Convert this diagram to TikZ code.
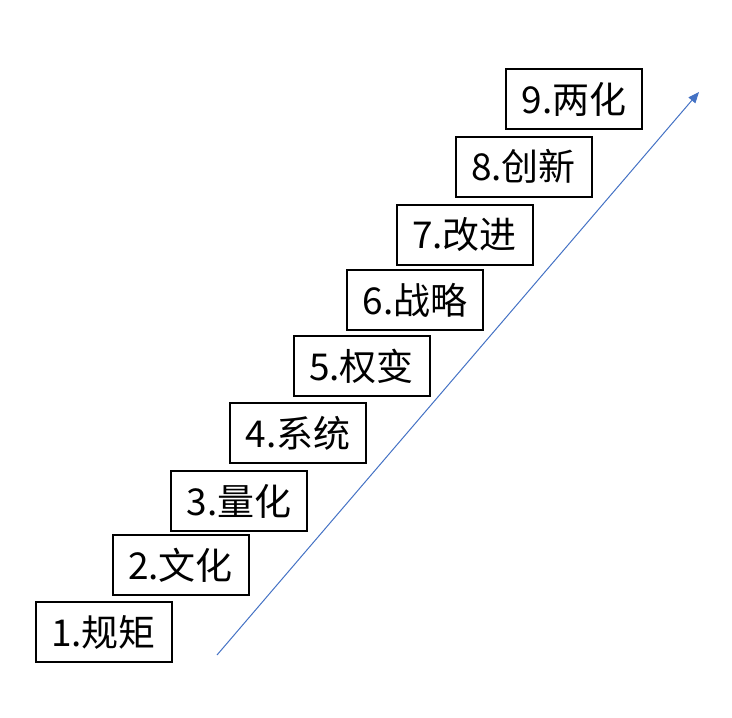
\documentclass[tikz,border=0pt]{standalone}
\usepackage{fontspec}
\newfontfamily\cjk{Noto Sans CJK SC}
\usetikzlibrary{arrows.meta}
\definecolor{arrowblue}{HTML}{4472C4}
\tikzset{
  stepbox/.style={draw=black, line width=2pt, fill=white, minimum width=136pt, minimum height=60pt, inner sep=0pt, font=\cjk\fontsize{37}{40}\selectfont, text=black},
  risearrow/.style={draw=arrowblue, line width=1pt, -{Triangle[width=9pt,length=11pt]}}
}
\begin{document}
\begin{tikzpicture}[x=1pt,y=-1pt]
\useasboundingbox (0,0) rectangle (732,718);
\node[stepbox] (s1) at (103.5,632) {1.规矩};
\node[stepbox] (s2) at (180.5,565) {2.文化};
\node[stepbox] (s3) at (239,501) {3.量化};
\node[stepbox] (s4) at (298,433) {4.系统};
\node[stepbox] (s5) at (361.5,366) {5.权变};
\node[stepbox] (s6) at (415,300) {6.战略};
\node[stepbox] (s7) at (464.5,235) {7.改进};
\node[stepbox] (s8) at (523.5,166.5) {8.创新};
\node[stepbox] (s9) at (574,99) {9.两化};
\coordinate (a0) at (217,655);
\coordinate (a1) at (699,92);
\draw[risearrow] (a0) -- (a1);
\end{tikzpicture}
\end{document}
